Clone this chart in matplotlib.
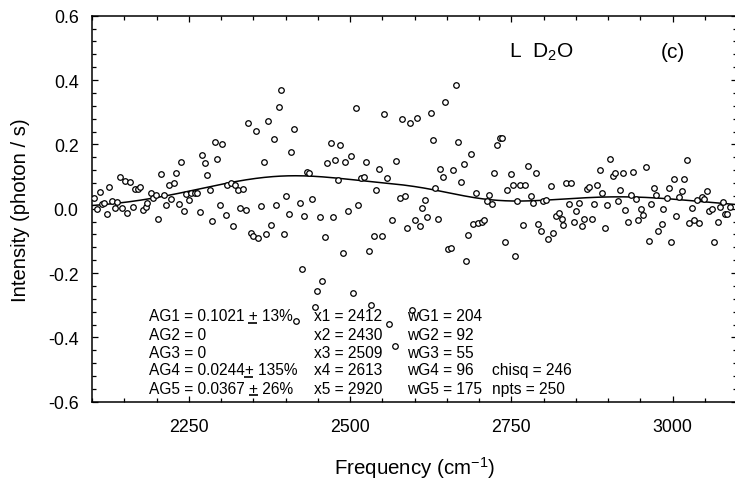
import matplotlib
matplotlib.use("Agg")
import matplotlib.pyplot as plt
import numpy as np
from matplotlib.ticker import MultipleLocator
from matplotlib.lines import Line2D
from matplotlib.transforms import IdentityTransform

# ---------------- data ----------------
freq = [2103, 2107, 2112, 2115, 2119, 2123, 2127, 2131, 2135, 2138,
        2143, 2147, 2151, 2155, 2159, 2163, 2167, 2171, 2175, 2179,
        2183, 2186, 2191, 2194, 2199, 2203, 2207, 2211, 2215, 2219,
        2222, 2227, 2230, 2235, 2238, 2243, 2246, 2251, 2254, 2259,
        2263, 2267, 2270, 2275, 2278, 2283, 2286, 2291, 2294, 2299,
        2302, 2307, 2310, 2315, 2319, 2322, 2326, 2330, 2334, 2338,
        2342, 2346, 2350, 2354, 2358, 2362, 2366, 2370, 2373, 2378,
        2382, 2386, 2390, 2393, 2397, 2401, 2405, 2409, 2413, 2417,
        2422, 2425, 2429, 2433, 2437, 2441, 2446, 2449, 2454, 2457,
        2462, 2465, 2470, 2473, 2477, 2481, 2485, 2489, 2493, 2497,
        2501, 2505, 2509, 2513, 2517, 2522, 2525, 2529, 2533, 2537,
        2541, 2545, 2549, 2553, 2557, 2561, 2565, 2569, 2572, 2577,
        2580, 2585, 2588, 2593, 2596, 2601, 2604, 2609, 2612, 2617,
        2620, 2625, 2628, 2632, 2636, 2640, 2644, 2648, 2652, 2656,
        2660, 2664, 2668, 2672, 2676, 2680, 2683, 2688, 2691, 2696,
        2699, 2704, 2708, 2712, 2716, 2720, 2724, 2728, 2732, 2736,
        2740, 2744, 2749, 2752, 2756, 2759, 2764, 2768, 2772, 2776,
        2780, 2784, 2788, 2791, 2796, 2799, 2804, 2807, 2812, 2815,
        2820, 2824, 2828, 2831, 2835, 2839, 2843, 2847, 2851, 2855,
        2859, 2863, 2867, 2871, 2875, 2879, 2883, 2887, 2891, 2895,
        2899, 2903, 2907, 2911, 2915, 2919, 2923, 2927, 2931, 2935,
        2939, 2943, 2947, 2951, 2955, 2959, 2963, 2967, 2971, 2975,
        2978, 2983, 2986, 2991, 2994, 2998, 3002, 3006, 3010, 3014,
        3018, 3022, 3026, 3030, 3034, 3038, 3041, 3046, 3049, 3054,
        3057, 3062, 3065, 3070, 3073, 3078, 3081, 3085, 3089]

intensity = [0.032, -0.002, 0.052, 0.014, 0.017, -0.018, 0.068, 0.023, 0.002, 0.021,
             0.100, 0.001, 0.086, -0.013, 0.082, 0.005, 0.061, 0.061, 0.066, -0.005,
             0.005, 0.019, 0.050, 0.032, 0.042, -0.033, 0.109, 0.043, 0.010, 0.074,
             0.031, 0.081, 0.112, 0.014, 0.144, -0.006, 0.047, 0.028, 0.050, 0.049,
             0.049, -0.010, 0.168, 0.141, 0.105, 0.058, -0.037, 0.208, 0.155, 0.011,
             0.200, -0.021, 0.073, 0.081, -0.055, 0.073, 0.058, 0.002, 0.060, -0.003,
             0.267, -0.074, -0.085, 0.241, -0.092, 0.008, 0.145, -0.078, 0.273, -0.051,
             0.217, 0.011, 0.315, 0.368, -0.078, 0.041, -0.018, 0.176, 0.248, -0.348,
             0.017, -0.188, -0.024, 0.113, 0.111, 0.031, -0.306, -0.255, -0.025, -0.226,
             -0.088, 0.143, 0.205, -0.025, 0.152, 0.089, 0.198, -0.138, 0.146, -0.006,
             0.165, -0.262, 0.314, 0.010, 0.096, 0.099, 0.144, -0.131, -0.299, -0.084,
             0.057, 0.123, -0.084, 0.295, 0.095, -0.357, -0.035, -0.426, 0.148, 0.033,
             0.279, 0.038, -0.059, 0.267, -0.314, -0.035, 0.282, -0.055, 0.002, 0.028,
             -0.027, 0.297, 0.214, 0.063, -0.033, 0.122, 0.099, 0.331, -0.126, -0.122,
             0.120, 0.384, 0.208, 0.083, 0.139, -0.162, -0.083, 0.171, -0.048, 0.048,
             -0.043, -0.040, -0.035, 0.024, 0.042, 0.016, 0.111, 0.198, 0.219, 0.219,
             -0.104, 0.057, 0.108, 0.073, -0.147, 0.025, 0.073, -0.051, 0.073, 0.132,
             0.041, 0.017, 0.111, -0.049, -0.068, 0.023, 0.026, -0.095, 0.072, -0.074,
             -0.024, -0.014, -0.033, -0.050, 0.081, 0.016, 0.079, -0.040, -0.008, 0.018,
             -0.055, -0.032, 0.062, 0.069, -0.031, 0.014, 0.073, 0.120, 0.050, -0.061,
             0.011, 0.153, 0.101, 0.111, 0.023, 0.059, 0.111, -0.004, -0.041, 0.042,
             0.114, 0.029, -0.035, 0.000, -0.019, 0.129, -0.101, 0.016, 0.064, 0.042,
             -0.070, -0.047, -0.002, 0.034, 0.064, -0.103, 0.093, -0.023, 0.037, 0.054,
             0.091, 0.150, -0.043, 0.001, -0.035, 0.026, -0.043, 0.035, 0.029, 0.056,
             -0.007, 0.000, -0.103, -0.041, 0.004, 0.022, -0.016, -0.018, 0.006]

# Gaussian fit parameters (as printed on the chart)
amps = [0.1021, 0.0, 0.0, 0.0244, 0.0367]
centers = [2412, 2430, 2509, 2613, 2920]
widths = [204, 92, 55, 96, 175]

# text rows printed on the chart: (prefix, uncertainty) ; "+" is underlined
ag_rows = [("AG1 = 0.1021 ", " 13%"), ("AG2 = 0", None), ("AG3 = 0", None),
           ("AG4 = 0.0244", " 135%"), ("AG5 = 0.0367 ", " 26%")]
x_rows = ["x1 = 2412", "x2 = 2430", "x3 = 2509", "x4 = 2613", "x5 = 2920"]
w_rows = ["wG1 = 204", "wG2 = 92", "wG3 = 55", "wG4 = 96", "wG5 = 175"]
stats_rows = ["chisq = 246", "npts = 250"]

# ---------------- figure ----------------
plt.rcParams["font.family"] = ["Liberation Sans", "DejaVu Sans"]
plt.rcParams["mathtext.fontset"] = "custom"
plt.rcParams["mathtext.rm"] = "Liberation Sans"
plt.rcParams["mathtext.it"] = "Liberation Sans:italic"

fig = plt.figure(figsize=(7.35, 4.81), dpi=100)
ax = fig.add_axes([92 / 735, 1 - 402.7 / 481, 645 / 735, 386 / 481])

ax.plot(freq, intensity, linestyle="none", marker="o", markersize=4.0,
        markerfacecolor="white", markeredgecolor="black", markeredgewidth=0.9,
        zorder=3)

xf = np.linspace(2100, 3100, 600)
fit = np.zeros_like(xf)
for a, c, w in zip(amps, centers, widths):
    fit += a * np.exp(-((xf - c) / w) ** 2)
ax.plot(xf, fit, color="black", linewidth=1.1, zorder=2)

ax.set_xlim(2100, 3100)
ax.set_ylim(-0.6, 0.6)
ax.xaxis.set_minor_locator(MultipleLocator(50))
ax.yaxis.set_minor_locator(MultipleLocator(0.04))
ax.set_yticks([-0.6, -0.4, -0.2, 0.0, 0.2, 0.4, 0.6])
ax.set_yticklabels(["-0.6", "-0.4", "-0.2", "0.0", "0.2", "0.4", "0.6"])
ax.set_xticks([2250, 2500, 2750, 3000])
ax.set_xticklabels(["2250", "2500", "2750", "3000"])
ax.tick_params(which="both", direction="in", top=True, right=True, width=0.9)
ax.tick_params(which="major", length=4.5)
ax.tick_params(which="minor", length=2.6)
ax.tick_params(axis="x", which="major", labelsize=12.8, pad=11.5)
ax.tick_params(axis="y", which="major", labelsize=12.8, pad=9.7)
for s in ax.spines.values():
    s.set_linewidth(1.1)

fig.text(21 / 735, 1 - 210.5 / 481, "Intensity (photon / s)", fontsize=14.6,
         rotation=90, ha="center", va="center")
fig.text(414.5 / 735, 1 - 468 / 481, "Frequency (cm$^{-1}$)", fontsize=14.8,
         ha="center", va="center")

ax.text(2747, 0.4716, "L  D$_2$O", fontsize=15, va="baseline", ha="left")
ax.text(2982, 0.4716, "(c)", fontsize=15, va="baseline", ha="left")

fs = 11.2
row_base = [-0.3475, -0.4044, -0.4603, -0.5153, -0.5719]
renderer = fig.canvas.get_renderer()
for yv, (pre, post), t2, t3 in zip(row_base, ag_rows, x_rows, w_rows):
    if post is None:
        ax.text(2187.6, yv, pre, fontsize=fs, va="baseline", ha="left")
    else:
        full = pre + "+" + post
        ax.text(2187.6, yv, full, fontsize=fs, va="baseline", ha="left")
        # underline the "+" sign
        tmp1 = ax.text(2187.6, yv, pre.rstrip() + "x+", fontsize=fs, va="baseline", ha="left")
        tmp0 = ax.text(2187.6, yv, pre.rstrip() + "x", fontsize=fs, va="baseline", ha="left")
        tmpp = ax.text(2187.6, yv, "+", fontsize=fs, va="baseline", ha="left")
        tmpsp = ax.text(2187.6, yv, pre.rstrip(), fontsize=fs, va="baseline", ha="left")
        b1 = tmp1.get_window_extent(renderer)
        bp = tmpp.get_window_extent(renderer)
        bpre = tmpsp.get_window_extent(renderer)
        b0 = tmp0.get_window_extent(renderer)
        xw = b0.x1 - bpre.x1  # width of 'x' ~ used to approximate a space offset
        for t in (tmp1, tmp0, tmpp, tmpsp):
            t.remove()
        # width of the real prefix up to '+'
        tpre = ax.text(2187.6, yv, pre + "+", fontsize=fs, va="baseline", ha="left")
        bfull = tpre.get_window_extent(renderer)
        tpre.remove()
        x_end = bfull.x1
        x_start = x_end - bp.width
        ybase = ax.transData.transform((2187.6, yv))[1]
        fig.add_artist(Line2D([x_start, x_end], [ybase - 2.5, ybase - 2.5],
                              transform=IdentityTransform(), color="black",
                              linewidth=1.2, solid_capstyle="butt"))
    ax.text(2444, yv, t2, fontsize=fs, va="baseline", ha="left")
    ax.text(2589, yv, t3, fontsize=fs, va="baseline", ha="left")
ax.text(2720, row_base[3], stats_rows[0], fontsize=fs, va="baseline", ha="left")
ax.text(2720, row_base[4], stats_rows[1], fontsize=fs, va="baseline", ha="left")

fig.savefig("out.png", dpi=100)
